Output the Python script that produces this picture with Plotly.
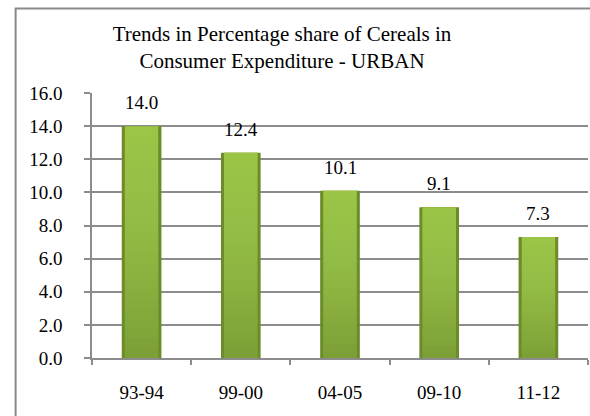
import plotly.graph_objects as go

categories = ["93-94", "99-00", "04-05", "09-10", "11-12"]
values = [14.0, 12.4, 10.1, 9.1, 7.3]
y_ticks = [0, 2, 4, 6, 8, 10, 12, 14, 16]
y_tick_labels = ["%.1f" % t for t in y_ticks]
title_text = "Trends in Percentage share of Cereals in<br>Consumer Expenditure - URBAN"

FONT = "Liberation Serif, Times New Roman, Times, serif"
GRID = "#8c8c8c"

fig = go.Figure()

# dark edge
fig.add_trace(go.Bar(x=categories, y=values, width=0.40,
                     marker=dict(color="#6c8c2b", line=dict(width=0)),
                     hoverinfo="skip"))
# main body (bottom colour)
fig.add_trace(go.Bar(x=categories, y=values, width=0.34,
                     marker=dict(color="#7c9f37", line=dict(width=0)),
                     hoverinfo="skip"))
# vertical light gradient built from translucent overlays
N = 24
for k in range(1, N):
    f = k / N
    fig.add_trace(go.Bar(x=categories, y=[v * (1 - f) for v in values],
                         base=[v * f for v in values], width=0.34,
                         marker=dict(color="rgba(190,230,95,0.045)", line=dict(width=0)),
                         hoverinfo="skip"))

for c, v in zip(categories, values):
    fig.add_annotation(x=c, y=v, text="%.1f" % v, showarrow=False,
                       yanchor="bottom", yshift=11,
                       font=dict(family=FONT, size=19, color="black"))

# outer chart border
fig.add_shape(type="rect", xref="paper", yref="paper",
              x0=-0.154, x1=1.006, y0=-0.23, y1=1.319,
              line=dict(color="#8a8a8a", width=2), layer="below")

fig.update_layout(
    width=590, height=416,
    margin=dict(l=92, r=2, t=93, b=58),
    paper_bgcolor="white", plot_bgcolor="white",
    barmode="overlay", showlegend=False,
    title=dict(text=title_text, x=0.478, xref="container", xanchor="center",
               y=1 - 41 / 416, yref="container", yanchor="middle",
               font=dict(family=FONT, size=21, color="black")),
    font=dict(family=FONT, size=19, color="black"),
)
fig.update_xaxes(type="category", showline=True, linecolor=GRID, linewidth=1.5,
                 ticks="outside", tickson="boundaries", ticklen=5, tickcolor=GRID,
                 tickwidth=1.5, showgrid=False, ticklabelstandoff=16,
                 tickfont=dict(family=FONT, size=19, color="black"))
fig.update_yaxes(range=[0, 16], tickvals=y_ticks, ticktext=y_tick_labels,
                 showline=True, linecolor=GRID, linewidth=1.5,
                 showgrid=True, gridcolor=GRID, gridwidth=1.5,
                 zeroline=False, ticks="outside", ticklen=6, tickcolor=GRID,
                 tickwidth=1.5, ticklabelstandoff=18,
                 tickfont=dict(family=FONT, size=19, color="black"))

fig.write_html("out.html")
